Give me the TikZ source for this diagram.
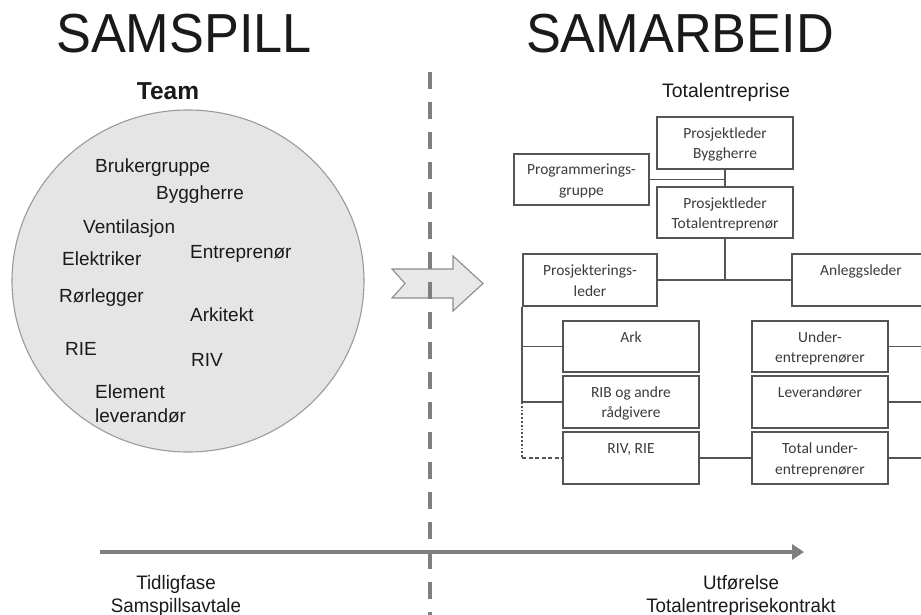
\documentclass[tikz,border=0pt]{standalone}
\usepackage{fontspec}
\setmainfont{Liberation Sans}
\newfontfamily\orgfont{Carlito}
\usetikzlibrary{arrows.meta}

\definecolor{inkdark}{HTML}{1A1A1A}
\definecolor{boxline}{HTML}{555555}
\definecolor{boxtext}{HTML}{3C3C3C}
\definecolor{teamfill}{HTML}{E5E5E5}
\definecolor{teamline}{HTML}{9A9A9A}
\definecolor{axisgray}{HTML}{7F7F7F}
\definecolor{chevfill}{HTML}{E8E8E8}
\definecolor{chevline}{HTML}{8C8C8C}

% two fixed text rows per organisation box, filled from the top
\newcommand\rowstrut{\rule[-2pt]{0pt}{16pt}}
\newcommand\twolines[2]{#1\rowstrut\\#2\rowstrut}

\tikzset{
  title/.style={inner sep=0pt, anchor=base, font=\fontsize{55}{60}\selectfont, text=inkdark},
  member/.style={inner sep=0pt, anchor=base west, font=\fontsize{19}{22}\selectfont, text=inkdark},
  phase/.style={inner sep=0pt, anchor=base, align=center, font=\fontsize{19.5}{23}\selectfont, text=inkdark},
  orgbox/.style={draw=boxline, line width=1.8pt, minimum width=136pt, minimum height=51.5pt,
    inner sep=0pt, align=center, text=boxtext, font=\orgfont\fontsize{15.5}{20.5}\selectfont},
  orglink/.style={draw=boxline, line width=1.8pt},
}

\begin{document}
\begin{tikzpicture}[x=1pt,y=-1pt]
\clip (0,0) rectangle (921,615);
\fill[white] (0,0) rectangle (921,615);

% headings
\node[title] (hleft) at (184,52.7) {\scalebox{0.95}[1]{SAMSPILL}};
\node[title] (hright) at (680,52.7) {\scalebox{0.95}[1]{SAMARBEID}};

% the team circle
\node[inner sep=0pt, anchor=base, font=\bfseries\fontsize{24.5}{28}\selectfont, text=inkdark] (team) at (168,99.3) {Team};
\draw[fill=teamfill, draw=teamline, line width=1.1pt] (188,281) ellipse [x radius=176, y radius=171];
\node[member] (m1) at (95,172.7) {Brukergruppe};
\node[member] (m2) at (156,199.3) {Byggherre};
\node[member] (m3) at (83,233.3) {Ventilasjon};
\node[member] (m4) at (190,258) {Entreprenør};
\node[member] (m5) at (62,265.7) {Elektriker};
\node[member] (m6) at (59,302.3) {Rørlegger};
\node[member] (m7) at (190,321.7) {Arkitekt};
\node[member] (m8) at (65,355) {RIE};
\node[member] (m9) at (191,366) {RIV};
\node[member] (m10) at (95,398.3) {Element};
\node[member] (m11) at (95,422.3) {leverandør};

% transition chevron
\draw[fill=chevfill, draw=chevline, line width=1.1pt]
  (392,269) -- (453,269) -- (453,256) -- (483,283.5) -- (453,311) -- (453,298)
  -- (392,298) -- (405,283.5) -- cycle;

% timeline
\coordinate (tstart) at (100,552);
\coordinate (tend) at (804,552);
\draw[axisgray, line width=4pt, -{Triangle[length=12pt, width=15pt]}] (tstart) -- (tend);
\node[phase] (p1) at (176,589) {\scalebox{0.96}[1]{Tidligfase}};
\node[phase] (p2) at (176,612) {\scalebox{0.96}[1]{Samspillsavtale}};
\node[phase] (p3) at (741,589) {\scalebox{0.96}[1]{Utførelse}};
\node[phase] (p4) at (741,612) {\scalebox{0.96}[1]{Totalentreprisekontrakt}};

% phase divider
\coordinate (dtop) at (430,72);
\coordinate (dbot) at (430,615);
\draw[axisgray, line width=3.6pt, dash pattern=on 17pt off 13pt] (dtop) -- (dbot);

% organisation chart
\node[inner sep=0pt, anchor=base, font=\fontsize{19.5}{23}\selectfont, text=inkdark] (te) at (726,97.3) {Totalentreprise};
\node[orgbox] (pb) at (725,143) {\twolines{Prosjektleder}{Byggherre}};
\node[orgbox, minimum width=135pt] (prog) at (581.5,179.5) {\twolines{Programmerings-}{gruppe}};
\node[orgbox] (pt) at (725,212.5) {\twolines{Prosjektleder}{Totalentreprenør}};
\node[orgbox, minimum width=134pt] (pl) at (590,280) {\twolines{Prosjekterings-}{leder}};
\node[orgbox, minimum width=138pt] (anl) at (861,280) {\twolines{Anleggsleder}{}};
\node[orgbox] (ark) at (631,346.5) {\twolines{Ark}{}};
\node[orgbox] (rib) at (631,402) {\twolines{RIB og andre}{rådgivere}};
\node[orgbox] (riv) at (631,458) {\twolines{RIV, RIE}{}};
\node[orgbox] (ue) at (820,346.5) {\twolines{Under-}{entreprenører}};
\node[orgbox] (lev) at (820,402) {\twolines{Leverandører}{}};
\node[orgbox] (tue) at (820,458) {\twolines{Total under-}{entreprenører}};

\coordinate (rbus) at (935,0);

\draw[orglink] (pb.south) -- (pt.north);
\draw[orglink] (prog.east) -- (prog.east -| pb.south);
\draw[orglink] (pt.south) -- (pt.south |- pl.east);
\draw[orglink] (pl.east) -- (anl.west);
\draw[orglink] (pl.south west) -- (pl.south west |- rib.west);
\draw[orglink] (pl.south west |- ark.west) -- (ark.west);
\draw[orglink] (pl.south west |- rib.west) -- (rib.west);
\draw[orglink, dash pattern=on 1.8pt off 2pt] (pl.south west |- rib.west) -- (pl.south west |- riv.west);
\draw[orglink, dash pattern=on 4pt off 2.5pt] (pl.south west |- riv.west) -- (riv.west);
\draw[orglink] (riv.east) -- (tue.west);
\draw[orglink] (ue.east) -- (ue.east -| rbus);
\draw[orglink] (lev.east) -- (lev.east -| rbus);
\draw[orglink] (tue.east) -- (tue.east -| rbus);
\end{tikzpicture}
\end{document}
